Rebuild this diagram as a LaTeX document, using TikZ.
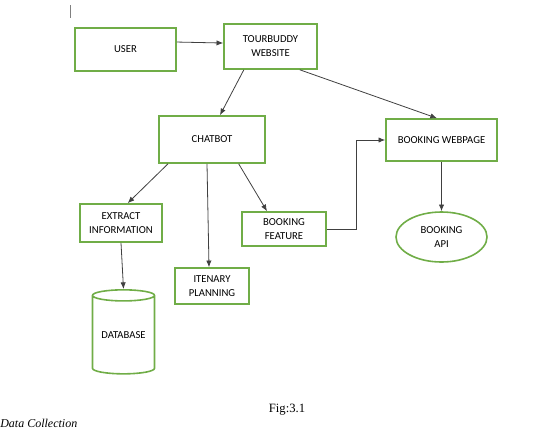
\documentclass[tikz,border=0pt]{standalone}
\usepackage{fontspec}
\setmainfont{Carlito}
\newfontfamily\timesfont{Liberation Serif}
\usetikzlibrary{arrows.meta,shapes.geometric}
\definecolor{boxgreen}{RGB}{112,173,71}
\definecolor{linkgray}{RGB}{64,64,64}

\begin{document}
\begin{tikzpicture}[x=0.75pt,y=-0.75pt,
    box/.style={draw=boxgreen,line width=1.2pt,align=center,inner sep=0pt,
        font=\fontsize{8}{10.5}\selectfont},
    link/.style={-{Latex[length=5pt,width=4pt]},draw=linkgray,line width=0.6pt}]
    \useasboundingbox (0,0) rectangle (534,429);

    \node[box,minimum width=75.75pt,minimum height=32.25pt] (user) at (125.5,49.5) {USER};
    \node[box,minimum width=69.75pt,minimum height=33.75pt] (tour) at (270.5,46.5) {TOURBUDDY\\WEBSITE};
    \node[box,minimum width=79.5pt,minimum height=35.25pt] (chat) at (212,139.5) {CHATBOT};
    \node[box,minimum width=83.25pt,minimum height=31.5pt] (webpage) at (441.5,140) {BOOKING WEBPAGE};
    \node[box,minimum width=61.5pt,minimum height=28.5pt] (extract) at (121,223) {EXTRACT\\INFORMATION};
    \node[box,minimum width=63pt,minimum height=25.5pt] (feature) at (284,229) {BOOKING\\FEATURE};
    \node[box,minimum width=55.5pt,minimum height=27pt] (itenary) at (212,286) {ITENARY\\PLANNING};
    \node[box,ellipse,minimum width=68.25pt,minimum height=37.5pt] (api) at (441.5,237) {BOOKING\\API};
    \node[box,cylinder,shape border rotate=90,aspect=0.25,minimum width=46.5pt,minimum height=63pt] (db) at (123.5,335) {DATABASE};

    \draw[link] ([yshift=5.6pt]user.east) -- ([yshift=2.6pt]tour.west);
    \draw[link] ([xshift=-20pt]tour.south) -- ([xshift=6pt]chat.north);
    \draw[link] ([xshift=22pt]tour.south) -- ([xshift=-3.4pt]webpage.north);
    \draw[link] ([xshift=-33pt]chat.south) -- ([xshift=5pt]extract.north);
    \draw[link] ([xshift=-3.75pt]chat.south) -- ([xshift=-2.25pt]itenary.north);
    \draw[link] ([xshift=20pt]chat.south) -- ([xshift=-12.75pt]feature.north);
    \draw[link] (extract.south) -- (db.north);
    \draw[link] (feature.east) -- ++(22.5pt,0) |- (webpage.west);
    \draw[link] (webpage.south) -- (api.north);

    % caption lines
    \node[font=\timesfont\fontsize{9.5}{11}\selectfont] (fig) at (287,410) {Fig:3.1};
    \node[font=\timesfont\itshape\fontsize{9}{11}\selectfont,anchor=base west,inner sep=0pt] (sec) at (0,427) {Data Collection};
    \draw[gray,line width=0.5pt] (70,5) -- (70,18);
\end{tikzpicture}
\end{document}
